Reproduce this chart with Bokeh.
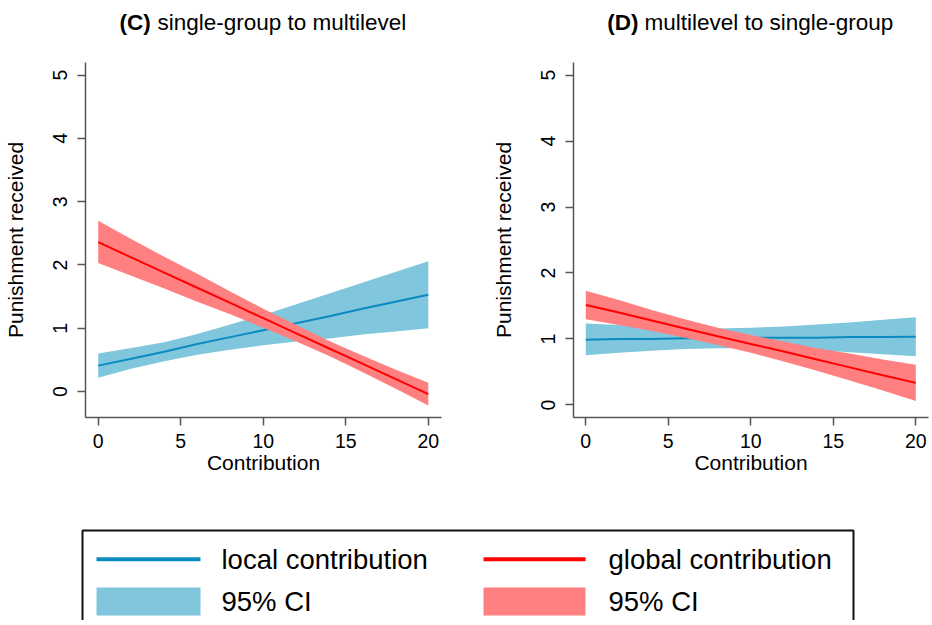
from bokeh.plotting import figure
from bokeh.models import Range1d, FixedTicker
from bokeh.layouts import column, row
from bokeh.embed import file_html
from bokeh.resources import INLINE
from bokeh.core.properties import value

# ---------------- data ----------------
contribution = [0, 2, 4, 6, 8, 10, 12, 14, 16, 18, 20]

# (C) single-group to multilevel
c_local_fit = [0.41, 0.52, 0.63, 0.75, 0.86, 0.97, 1.08, 1.19, 1.31, 1.42, 1.53]
c_local_lo = [0.22, 0.36, 0.48, 0.58, 0.66, 0.73, 0.79, 0.84, 0.90, 0.95, 1.00]
c_local_hi = [0.60, 0.69, 0.78, 0.91, 1.06, 1.21, 1.38, 1.55, 1.72, 1.89, 2.06]
c_global_fit = [2.36, 2.12, 1.88, 1.64, 1.40, 1.16, 0.92, 0.68, 0.44, 0.20, -0.04]
c_global_lo = [2.03, 1.83, 1.63, 1.42, 1.22, 1.01, 0.79, 0.56, 0.31, 0.05, -0.22]
c_global_hi = [2.70, 2.41, 2.13, 1.86, 1.58, 1.31, 1.05, 0.80, 0.57, 0.35, 0.14]

# (D) multilevel to single-group
d_local_fit = [0.99, 1.00, 1.00, 1.01, 1.01, 1.02, 1.02, 1.02, 1.03, 1.03, 1.035]
d_local_lo = [0.755, 0.79, 0.82, 0.85, 0.86, 0.86, 0.85, 0.83, 0.80, 0.77, 0.74]
d_local_hi = [1.235, 1.21, 1.18, 1.17, 1.16, 1.17, 1.19, 1.22, 1.25, 1.29, 1.33]
d_global_fit = [1.515, 1.40, 1.28, 1.16, 1.04, 0.925, 0.81, 0.69, 0.57, 0.45, 0.335]
d_global_lo = [1.30, 1.21, 1.12, 1.02, 0.91, 0.79, 0.66, 0.52, 0.37, 0.22, 0.06]
d_global_hi = [1.73, 1.59, 1.44, 1.30, 1.17, 1.06, 0.96, 0.86, 0.78, 0.69, 0.61]

x_ticks = [0, 5, 10, 15, 20]
y_ticks = [0, 1, 2, 3, 4, 5]
x_label = "Contribution"
y_label = "Punishment received"
titles_bold = ["(C)", "(D)"]
titles_rest = ["single-group to multilevel", "multilevel to single-group"]
legend_labels = ["local contribution", "global contribution", "95% CI", "95% CI"]

# ---------------- styles ----------------
FONT = "Liberation Sans"
BLUE_LINE = "#0a8bc0"
BLUE_BAND = "#80c6dd"
RED_LINE = "#ff0000"
RED_BAND = "#ff8080"
AXIS_COLOR = "#555555"

TOTAL_W = 930
TITLE_H = 40
PANEL_H = 447
LEGEND_H = 133


def strip(height):
    s = figure(width=TOTAL_W, height=height, output_backend="svg", toolbar_location=None,
               x_range=Range1d(0, TOTAL_W), y_range=Range1d(height, 0), min_border=0)
    s.axis.visible = False
    s.grid.visible = False
    s.outline_line_color = None
    return s


# ---------------- title strip ----------------
pt = strip(TITLE_H)
title_bold_x = [119, 606.7]
title_rest_x = [157, 644]
title_y = 22
for i in range(2):
    pt.text(x=[title_bold_x[i]], y=[title_y], text=[titles_bold[i]], text_font=value(FONT),
            text_font_size="22.5px", text_font_style="bold", text_baseline="middle",
            text_align="left", text_color="black")
    pt.text(x=[title_rest_x[i]], y=[title_y], text=[titles_rest[i]], text_font=value(FONT),
            text_font_size="22.5px", text_baseline="middle", text_align="left",
            text_color="black")


def make_panel(width, left_border, right_border, xr, yr, series):
    p = figure(width=width, height=PANEL_H, output_backend="svg", toolbar_location=None,
               x_range=Range1d(*xr), y_range=Range1d(*yr),
               min_border_left=left_border, min_border_right=right_border,
               min_border_top=22, min_border_bottom=70)
    p.outline_line_color = None
    p.grid.visible = False

    lfit, llo, lhi, gfit, glo, ghi = series
    p.varea(x=contribution, y1=llo, y2=lhi, fill_color=BLUE_BAND, fill_alpha=1.0)
    p.line(x=contribution, y=lfit, line_color=BLUE_LINE, line_width=2)
    p.varea(x=contribution, y1=glo, y2=ghi, fill_color=RED_BAND, fill_alpha=1.0)
    p.line(x=contribution, y=gfit, line_color=RED_LINE, line_width=2)

    for ax in (p.xaxis[0], p.yaxis[0]):
        ax.axis_line_color = AXIS_COLOR
        ax.axis_line_width = 1.5
        ax.major_tick_line_color = AXIS_COLOR
        ax.major_tick_line_width = 1.5
        ax.major_tick_in = 0
        ax.major_tick_out = 8
        ax.minor_tick_line_color = None
        ax.major_label_text_font = FONT
        ax.major_label_text_font_size = "19.5px"
        ax.major_label_text_color = "black"
        ax.axis_label_text_font = FONT
        ax.axis_label_text_font_size = "21px"
        ax.axis_label_text_font_style = "normal"
        ax.axis_label_text_color = "black"

    p.xaxis.ticker = FixedTicker(ticks=x_ticks)
    p.yaxis.ticker = FixedTicker(ticks=y_ticks)
    p.xaxis.axis_label = x_label
    p.yaxis.axis_label = y_label
    p.xaxis.major_label_standoff = 8
    p.xaxis.axis_label_standoff = 0
    p.yaxis.major_label_standoff = 10
    p.yaxis.axis_label_standoff = 24
    p.yaxis.major_label_orientation = "vertical"
    return p


p1 = make_panel(474, 85, 33, (-0.77, 20.8), (-0.41, 5.2),
                (c_local_fit, c_local_lo, c_local_hi, c_global_fit, c_global_lo, c_global_hi))
p2 = make_panel(456, 99, 2, (-0.745, 20.77), (-0.19, 5.19),
                (d_local_fit, d_local_lo, d_local_hi, d_global_fit, d_global_lo, d_global_hi))

# ---------------- legend strip ----------------
pl = strip(LEGEND_H)
box_l, box_t, box_r = 82, 43, 853
pl.line(x=[box_l, box_l, box_r, box_r], y=[LEGEND_H + 10, box_t, box_t, LEGEND_H + 10],
        line_color="#111111", line_width=2)

row1_y, row2_top, row2_bot = 71.7, 100, 128
col_x = [(96, 200), (483, 585)]
text_x = [221, 608]
line_cols = [BLUE_LINE, RED_LINE]
band_cols = [BLUE_BAND, RED_BAND]
for i in range(2):
    x0, x1 = col_x[i]
    pl.line(x=[x0, x1], y=[row1_y, row1_y], line_color=line_cols[i], line_width=4)
    pl.quad(left=[x0], right=[x1], top=[row2_top], bottom=[row2_bot],
            fill_color=band_cols[i], line_color=None)
    pl.text(x=[text_x[i]], y=[row1_y], text=[legend_labels[i]], text_font=value(FONT),
            text_font_size="27.5px", text_baseline="middle", text_align="left",
            text_color="black")
    pl.text(x=[text_x[i]], y=[(row2_top + row2_bot) / 2], text=[legend_labels[2 + i]],
            text_font=value(FONT), text_font_size="27.5px", text_baseline="middle",
            text_align="left", text_color="black")

layout = column(pt, row(p1, p2), pl)
open("out.html", "w").write(file_html(layout, INLINE))
